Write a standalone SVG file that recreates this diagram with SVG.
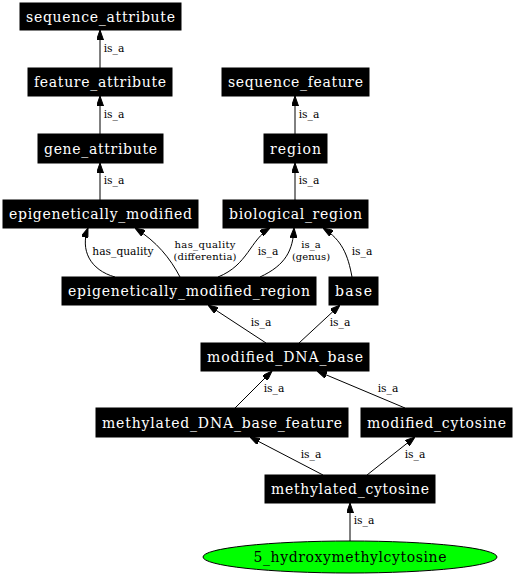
<svg xmlns="http://www.w3.org/2000/svg" width="515" height="576" viewBox="0 0 515 576">
<style>
.n rect{fill:#000;stroke:#000;stroke-width:1}
.n text{font-family:"DejaVu Serif",serif;font-size:14px;fill:#fff;text-anchor:middle}
.e path,.e line{fill:none;stroke:#000;stroke-width:1;marker-end:url(#ah)}
.l{font-family:"DejaVu Serif",serif;font-size:10.7px;fill:#000;text-anchor:middle}
.l2{font-size:10px}
</style>
<defs>
<marker id="ah" markerWidth="10" markerHeight="7" refX="10" refY="3.5" orient="auto" markerUnits="userSpaceOnUse">
<path d="M0,0 L10,3.5 L0,7 z" fill="#000" stroke="#000" stroke-width="1"/>
</marker>
</defs>
<rect width="515" height="576" fill="#fff"/>
<g id="connectors" class="e">
<line x1="100" y1="68" x2="100" y2="30"/>
<line x1="100" y1="134" x2="100" y2="96"/>
<line x1="100" y1="200" x2="100" y2="163"/>
<line x1="295" y1="134" x2="295" y2="96"/>
<line x1="295" y1="200" x2="295" y2="163"/>
<path d="M115,277 C90,270 80,250 88,228"/>
<path d="M180,277 C170,258 157,242 135,228"/>
<path d="M218,277 C248,265 250,240 270,228"/>
<path d="M260,277 C286,265 293,250 294,228"/>
<path d="M352,277 C348,255 342,240 323,228"/>
<line x1="266" y1="343" x2="208" y2="305"/>
<line x1="299" y1="343" x2="340" y2="305"/>
<line x1="235" y1="408" x2="272" y2="371"/>
<line x1="405" y1="408" x2="317" y2="371"/>
<line x1="323" y1="475" x2="250" y2="437"/>
<line x1="367" y1="475" x2="415" y2="437"/>
<line x1="350" y1="541" x2="350" y2="503"/>
<text class="l" x="114" y="52">is_a</text>
<text class="l" x="114" y="118">is_a</text>
<text class="l" x="114" y="184">is_a</text>
<text class="l" x="309" y="118">is_a</text>
<text class="l" x="309" y="184">is_a</text>
<text class="l" x="123" y="255">has_quality</text>
<text class="l l2" x="205" y="247.5" textLength="61">has_quality</text>
<text class="l l2" x="205" y="259.5" textLength="63">(differentia)</text>
<text class="l" x="268" y="255">is_a</text>
<text class="l l2" x="311" y="247.5">is_a</text>
<text class="l l2" x="311" y="259.5">(genus)</text>
<text class="l" x="362" y="255">is_a</text>
<text class="l" x="261" y="326">is_a</text>
<text class="l" x="340" y="326">is_a</text>
<text class="l" x="274" y="392">is_a</text>
<text class="l" x="388" y="392">is_a</text>
<text class="l" x="311" y="458">is_a</text>
<text class="l" x="415" y="458">is_a</text>
<text class="l" x="364" y="524">is_a</text>
</g>
<g id="sequence_attribute" class="n"><rect x="20" y="3" width="161" height="27"/><text x="100.5" y="21.5" textLength="149">sequence_attribute</text></g>
<g id="feature_attribute" class="n"><rect x="28" y="68" width="144" height="28"/><text x="100" y="87" textLength="132">feature_attribute</text></g>
<g id="gene_attribute" class="n"><rect x="38" y="134" width="125" height="29"/><text x="100.5" y="153.5" textLength="113">gene_attribute</text></g>
<g id="sequence_feature" class="n"><rect x="222" y="68" width="147" height="28"/><text x="295.5" y="87" textLength="135">sequence_feature</text></g>
<g id="region" class="n"><rect x="264" y="134" width="63" height="29"/><text x="295.5" y="153.5" textLength="51">region</text></g>
<g id="epigenetically_modified" class="n"><rect x="3" y="200" width="195" height="28"/><text x="100.5" y="219" textLength="183">epigenetically_modified</text></g>
<g id="biological_region" class="n"><rect x="223" y="200" width="145" height="28"/><text x="295.5" y="219" textLength="133">biological_region</text></g>
<g id="epigenetically_modified_region" class="n"><rect x="62" y="277" width="254" height="28"/><text x="189" y="296" textLength="242">epigenetically_modified_region</text></g>
<g id="base" class="n"><rect x="329" y="277" width="49" height="28"/><text x="353.5" y="296" textLength="37">base</text></g>
<g id="modified_DNA_base" class="n"><rect x="201" y="343" width="168" height="28"/><text x="285" y="362" textLength="156">modified_DNA_base</text></g>
<g id="methylated_DNA_base_feature" class="n"><rect x="96" y="408" width="252" height="29"/><text x="222" y="427.5" textLength="240">methylated_DNA_base_feature</text></g>
<g id="modified_cytosine" class="n"><rect x="361" y="408" width="151" height="29"/><text x="436.5" y="427.5" textLength="139">modified_cytosine</text></g>
<g id="methylated_cytosine" class="n"><rect x="265" y="475" width="170" height="28"/><text x="350" y="494" textLength="158">methylated_cytosine</text></g>
<g id="5_hydroxymethylcytosine"><ellipse cx="350" cy="557" rx="147" ry="16" fill="#00ff00" stroke="#000" stroke-width="1"/><text x="350" y="562" font-family="DejaVu Serif,serif" font-size="14" fill="#000" text-anchor="middle" textLength="193">5_hydroxymethylcytosine</text></g>
</svg>
